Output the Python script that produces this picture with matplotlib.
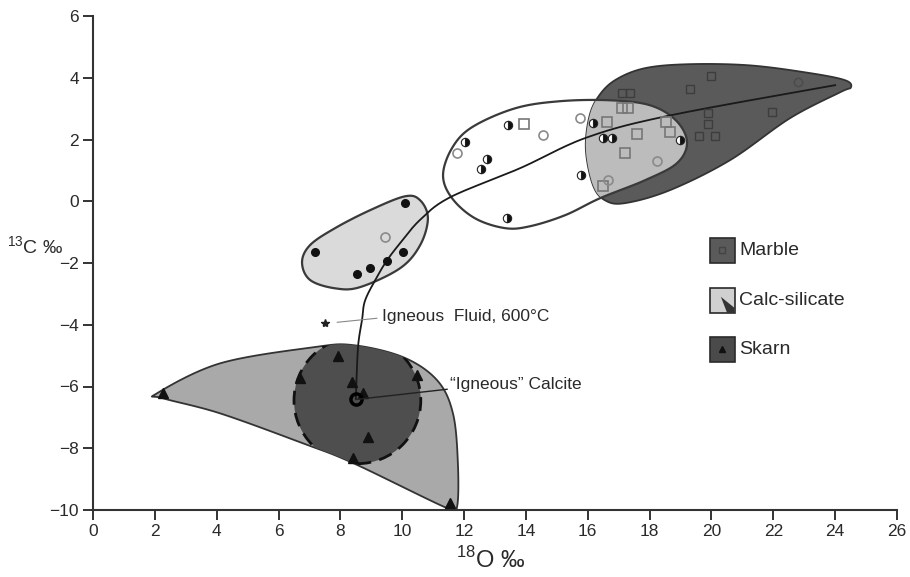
import matplotlib
matplotlib.use("Agg")
import matplotlib.pyplot as plt
from matplotlib.patches import Polygon, Circle, Rectangle
import numpy as np

plt.rcParams['font.family'] = ['Liberation Sans', 'DejaVu Sans']
plt.rcParams['mathtext.fontset'] = 'custom'
plt.rcParams['mathtext.rm'] = 'Liberation Sans'

# field outlines (d18O, d13C)
marble_x = [15.94, 16.04, 16.33, 16.88, 17.85, 19.31, 21.25, 23.19, 24.32, 24.51, 24.16, 22.54, 20.60, 18.66, 17.21, 16.56, 16.17]
marble_y = [1.65, 2.69, 3.37, 3.92, 4.31, 4.44, 4.40, 4.15, 3.92, 3.69, 3.53, 2.69, 1.33, 0.36, -0.06, 0.03, 0.52]

calc_x = [11.32, 11.61, 12.26, 13.65, 15.10, 16.72, 18.01, 18.85, 19.21, 18.88, 17.85, 16.40, 15.27, 14.13, 13.32, 12.35, 11.61]
calc_y = [0.84, 1.72, 2.40, 3.01, 3.24, 3.27, 3.11, 2.62, 1.91, 1.23, 0.68, 0.10, -0.45, -0.81, -0.87, -0.55, 0.10]

calc2_x = [10.09, 8.96, 7.83, 7.02, 6.76, 7.02, 7.83, 8.64, 9.93, 10.58, 10.83, 10.58]
calc2_y = [0.16, -0.29, -0.87, -1.42, -1.98, -2.55, -2.82, -2.78, -2.17, -1.42, -0.55, 0.03]

skarn_x = [2.07, 4.11, 7.12, 8.41, 10.03, 11.13, 11.64, 11.80, 11.77, 11.45, 8.41, 6.79, 4.11, 2.26]
skarn_y = [-6.22, -5.25, -4.73, -4.66, -5.05, -5.80, -6.87, -8.49, -9.91, -9.94, -8.48, -7.84, -6.87, -6.38]

skarn_core = (8.55, -6.45)
skarn_core_r = 2.05

# trend from igneous calcite to marble
trend_x = [8.50, 8.57, 8.70, 8.80, 9.18, 9.51, 9.93, 10.58, 11.55, 13.81, 15.98, 18.66, 24.0]
trend_y = [-6.38, -4.73, -3.85, -3.21, -2.46, -1.91, -1.36, -0.60, 0.13, 1.07, 2.07, 2.78, 3.76]

# samples
marble_sq_x = [17.1, 17.35, 19.3, 20.0, 19.9, 19.9, 21.95, 19.6, 20.1]
marble_sq_y = [3.5, 3.5, 3.65, 4.05, 2.85, 2.5, 2.9, 2.1, 2.1]
marble_ci_x = [22.8]
marble_ci_y = [3.85]

calc_sq_x = [16.62, 17.11, 17.30, 17.59, 17.21, 18.53, 18.66, 16.49, 13.94]
calc_sq_y = [2.56, 3.01, 3.01, 2.17, 1.55, 2.56, 2.23, 0.49, 2.49]
calc_ci_x = [18.24, 16.66, 15.75, 14.55, 11.77, 9.44]
calc_ci_y = [1.30, 0.68, 2.69, 2.14, 1.55, -1.17]
calc_half_x = [18.98, 16.17, 16.49, 16.79, 15.78, 13.42, 12.03, 12.74, 12.55, 13.39]
calc_half_y = [1.98, 2.53, 2.04, 2.04, 0.84, 2.46, 1.91, 1.36, 1.04, -0.55]
calc_dot_x = [10.09, 7.18, 10.03, 9.51, 8.96, 8.54]
calc_dot_y = [-0.06, -1.65, -1.65, -1.94, -2.17, -2.36]

skarn_tri_x = [2.27, 7.92, 6.69, 10.48, 8.38, 8.73, 8.89, 8.41, 11.55]
skarn_tri_y = [-6.22, -5.02, -5.73, -5.63, -5.86, -6.22, -7.64, -8.32, -9.78]

fluid = (7.5, -3.95)
igneous_calcite = (8.5, -6.42)

legend_names = ['Marble', 'Calc-silicate', 'Skarn']


def spline(xs, ys, closed=True, n=24):
    # Catmull-Rom through the outline points
    pts = np.column_stack([xs, ys]).astype(float)
    if closed:
        P = np.vstack([pts[-1], pts, pts[0], pts[1]])
    else:
        P = np.vstack([pts[0], pts, pts[-1]])
    t = np.linspace(0, 1, n, endpoint=False)[:, None]
    out = []
    for i in range(1, len(P) - 2):
        p0, p1, p2, p3 = P[i - 1], P[i], P[i + 1], P[i + 2]
        out.append(0.5 * (2 * p1 + (-p0 + p2) * t + (2 * p0 - 5 * p1 + 4 * p2 - p3) * t ** 2
                          + (-p0 + 3 * p1 - 3 * p2 + p3) * t ** 3))
    if not closed:
        out.append(P[-2][None])
    return np.vstack(out)


fig = plt.figure(figsize=(9.1, 5.77), dpi=100)
ax = fig.add_axes([93 / 910, 67 / 577, 804 / 910, 494 / 577])
edge = '#333333'

# skarn field with its dashed core
skarn = Polygon(spline(skarn_x, skarn_y), closed=True, fc='#a9a9a9', ec=edge, lw=1.3, zorder=1)
ax.add_patch(skarn)
core = Circle(skarn_core, skarn_core_r, fc='#4e4e4e', ec='#111111', lw=2, ls=(0, (5, 3)), zorder=2)
ax.add_patch(core)
core.set_clip_path(skarn)

# marble field and calc-silicate overlap
marble = Polygon(spline(marble_x, marble_y), closed=True, fc='#5a5a5a', ec=edge, lw=1.3, zorder=1)
ax.add_patch(marble)
calc_path = spline(calc_x, calc_y)
overlap = Polygon(calc_path, closed=True, fc='#bcbcbc', ec='none', zorder=2)
ax.add_patch(overlap)
overlap.set_clip_path(marble)
ax.add_patch(Polygon(calc_path, closed=True, fc='none', ec='#3a3a3a', lw=1.6, zorder=3))
ax.add_patch(Polygon(spline(calc2_x, calc2_y), closed=True, fc='#dadada', ec='#3a3a3a', lw=1.6, zorder=3))

tr = spline(trend_x, trend_y, closed=False)
ax.plot(tr[:, 0], tr[:, 1], color='#1a1a1a', lw=1.3, zorder=4)

# sample symbols
ax.plot(marble_sq_x, marble_sq_y, 's', ms=6, mfc='none', mec='#3d3d3d', mew=1, zorder=5)
ax.plot(marble_ci_x, marble_ci_y, 'o', ms=6, mfc='none', mec='#4a4a4a', mew=1, zorder=5)
ax.plot(calc_sq_x, calc_sq_y, 's', ms=6.5, mfc='none', mec='#777777', mew=1.2, zorder=5)
ax.plot(calc_ci_x, calc_ci_y, 'o', ms=6.5, mfc='none', mec='#8a8a8a', mew=1.2, zorder=5)
ax.plot(calc_half_x, calc_half_y, 'o', ms=6, fillstyle='right', mfc='#111111', mfcalt='white',
        mec='#222222', mew=0.8, zorder=5)
ax.plot(calc_dot_x, calc_dot_y, 'o', ms=5.5, color='#111111', zorder=5)
ax.plot(skarn_tri_x, skarn_tri_y, '^', ms=6.5, color='#111111', zorder=5)
ax.plot(*fluid, '*', ms=6, color='#222222', zorder=5)
ax.plot(*igneous_calcite, 'o', ms=8, mfc='none', mec='black', mew=2.5, zorder=6)

# annotations
ax.plot([fluid[0] + 0.4, 9.18], [fluid[1] + 0.03, -3.79], color='#888888', lw=0.8, zorder=4)
ax.text(9.35, -3.72, 'Igneous  Fluid, 600\u00b0C', fontsize=12.5, color='#2a2a2a', va='center', ha='left')
ax.plot([igneous_calcite[0], 11.45], [igneous_calcite[1], -6.09], color='#222222', lw=1, zorder=6)
ax.text(11.55, -5.93, '\u201cIgneous\u201d Calcite', fontsize=12.5, color='#2a2a2a', va='center', ha='left')

# legend boxes
lx, lw_, lh = 0.767, 0.031, 0.05
tops = [0.551, 0.449, 0.350]
ax.add_patch(Rectangle((lx, tops[0] - lh), lw_, lh, transform=ax.transAxes, fc='#5a5a5a', ec='#2a2a2a', lw=1.2, clip_on=False))
ax.plot(lx + lw_ / 2, tops[0] - lh / 2, 's', ms=5, mfc='none', mec='#444444', transform=ax.transAxes, clip_on=False)
ax.add_patch(Rectangle((lx, tops[1] - lh), lw_, lh, transform=ax.transAxes, fc='#d0d0d0', ec='#2a2a2a', lw=1.2, clip_on=False))
ax.add_patch(Polygon([[lx + lw_ * 0.45, tops[1] - lh * 0.35], [lx + lw_, tops[1] - lh * 0.8], [lx + lw_, tops[1] - lh],
                      [lx + lw_ * 0.7, tops[1] - lh]], closed=True, transform=ax.transAxes, fc='#333333', ec='none', clip_on=False))
ax.add_patch(Rectangle((lx, tops[2] - lh), lw_, lh, transform=ax.transAxes, fc='#4a4a4a', ec='#2a2a2a', lw=1.2, clip_on=False))
ax.plot(lx + lw_ / 2, tops[2] - lh / 2, '^', ms=5, color='#111111', transform=ax.transAxes, clip_on=False)
for top, name in zip(tops, legend_names):
    ax.text(lx + lw_ + 0.006, top - lh / 2, name, transform=ax.transAxes, fontsize=14,
            color='#2a2a2a', va='center', ha='left')

ax.set_xlim(0, 26)
ax.set_ylim(-10, 6)
ax.set_xticks(np.arange(0, 27, 2))
ax.set_yticks(np.arange(-10, 7, 2))
ax.set_yticklabels(['\u221210', '\u22128', '\u22126', '\u22124', '\u22122', '0', '2', '4', '6'])
for s in ['top', 'right']:
    ax.spines[s].set_visible(False)
for s in ['left', 'bottom']:
    ax.spines[s].set_color('#333333')
    ax.spines[s].set_linewidth(1.5)
ax.tick_params(direction='out', length=7, width=1.4, color='#333333', labelsize=12.5,
               labelcolor='#2a2a2a', pad=3)
ax.set_xlabel('$^{18}$O \u2030', fontsize=17, color='#2a2a2a')
ax.xaxis.set_label_coords(0.494, -0.075)
ax.set_ylabel('$^{13}$C \u2030', fontsize=14, color='#2a2a2a', rotation=0)
ax.yaxis.set_label_coords(-0.072, 0.51)

fig.savefig('out.png', dpi=100)
